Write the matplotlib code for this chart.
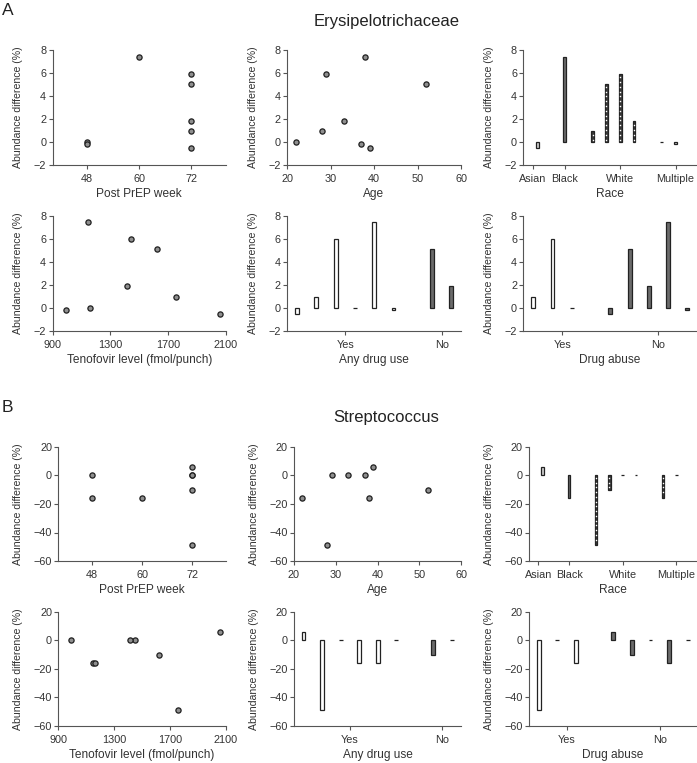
import matplotlib
matplotlib.use("Agg")
import matplotlib.pyplot as plt
import numpy as np

plt.rcParams['font.family'] = ['Liberation Sans', 'DejaVu Sans']

# one entry per subject
week = [60, 72, 72, 72, 72, 48, 48, 72]
age = [38, 29, 52, 33, 28, 22, 37, 39]
tenofovir = [1147, 1446, 1620, 1413, 1755, 1162, 993, 2060]
race = ["Black", "White", "White", "White", "White", "Multiple", "Multiple", "Asian"]
drug_use = ["Yes", "Yes", "No", "No", "Yes", "Yes", "Yes", "Yes"]
drug_abuse = ["No", "Yes", "No", "No", "Yes", "Yes", "No", "No"]

# abundance differences (%)
erysipelotrichaceae = [7.42, 5.94, 5.07, 1.86, 0.96, 0.0, -0.2, -0.55]
streptococcus = [-16, 0, -10, 0, -49, -16, 0, 6.2]

race_order = ["Asian", "Black", "White", "Multiple"]
yes_no = ["Yes", "No"]

# bar look per subject in the race panels
race_look = ["solid", "dotted", "dotted", "dotted", "dotted", "dotted", "light", "light"]

W, H = 697, 763
TXT = "#333333"
AXC = "#555555"
DARK = "#6b6b6b"


def px_rect(left, right, top, bottom):
    return [left / W, 1 - bottom / H, (right - left) / W, (bottom - top) / H]


def style_axes(ax, ylim, yticks):
    ax.set_ylim(ylim)
    ax.set_yticks(yticks)
    for s in ["top", "right"]:
        ax.spines[s].set_visible(False)
    for s in ["left", "bottom"]:
        ax.spines[s].set_color(AXC)
        ax.spines[s].set_linewidth(0.8)
    ax.tick_params(axis="both", length=3, width=0.8, color=AXC, labelcolor=TXT, labelsize=7.8)
    ax.tick_params(axis="x", pad=3.5)
    ax.tick_params(axis="y", pad=1.5)
    ax.set_ylabel("Abundance difference (%)", fontsize=7.6, color=TXT, labelpad=7.5)
    ax.patch.set_alpha(0)


def grouped_slots(groups, order):
    members, slots, pos = [], [], 0
    for g in order:
        idx = [i for i in range(len(groups)) if groups[i] == g]
        idx.sort(key=lambda i: -tenofovir[i])
        for i in idx:
            members.append(i)
            slots.append(pos)
            pos += 1
        pos += 1
    return members, slots


def scatter_panel(ax, x, y, xlim, xticks, xlabel):
    ax.scatter(x, y, s=14, facecolor="#8f8f8f", edgecolor="#1e1e1e", linewidth=0.9, zorder=3)
    ax.set_xlim(xlim)
    ax.set_xticks(xticks)
    ax.set_xlabel(xlabel, fontsize=8.6, color=TXT, labelpad=3)


def yes_no_panel(ax, groups, values, ticks, xlabel):
    members, slots = grouped_slots(groups, yes_no)
    for i, s in zip(members, slots):
        fc = "white" if groups[i] == "Yes" else DARK
        ax.bar(s, values[i], width=0.2, color=fc, edgecolor="#222222", linewidth=0.9)
    ax.set_xlim(-0.52, 8.5)
    ax.set_xticks(ticks)
    ax.set_xticklabels(yes_no)
    ax.set_xlabel(xlabel, fontsize=8.6, color=TXT, labelpad=3)


def race_panel(ax, values, ylim):
    members, slots = grouped_slots(race, race_order)
    step = (ylim[1] - ylim[0]) / 24.0
    for i, s in zip(members, slots):
        look = race_look[i]
        fc = {"solid": DARK, "dotted": "#3a3a3a", "light": "#cfcfcf"}[look]
        ax.bar(s, values[i], width=0.2, color=fc, edgecolor="#222222", linewidth=0.9)
        if look == "dotted" and abs(values[i]) > step:
            n = int(abs(values[i]) / step)
            dots = np.sign(values[i]) * step * (np.arange(n) + 0.5)
            ax.plot([s] * n, dots, ls="none", marker="s", ms=1.0, mec="none", mfc="white", zorder=4)
    ax.set_xlim(-1.0, 11.55)
    ax.set_xticks([-0.3, 2, 6, 10])
    ax.set_xticklabels(race_order)
    ax.set_xlabel("Race", fontsize=8.6, color=TXT, labelpad=3)


fig = plt.figure(figsize=(W / 100, H / 100), dpi=100)

blocks = [
    ("A", "Erysipelotrichaceae", erysipelotrichaceae, (-2, 8), [-2, 0, 2, 4, 6, 8],
     [(50, 165), (215.7, 330.7)], [52.5, 287, 523.3], 15, 26),
    ("B", "Streptococcus", streptococcus, (-60, 20), [-60, -40, -20, 0, 20],
     [(447, 561), (612, 725.7)], [58.3, 294, 529], 411.7, 422),
]

for letter, taxon, vals, ylim, yticks, rows, lefts, letter_base, title_base in blocks:
    (t1, b1), (t2, b2) = rows
    rights = [226, 461, 697]

    ax = fig.add_axes(px_rect(lefts[0], rights[0], t1, b1))
    scatter_panel(ax, week, vals, (40, 80), [48, 60, 72], "Post PrEP week")
    style_axes(ax, ylim, yticks)

    ax = fig.add_axes(px_rect(lefts[1], rights[1], t1, b1))
    scatter_panel(ax, age, vals, (20, 60), [20, 30, 40, 50, 60], "Age")
    style_axes(ax, ylim, yticks)

    ax = fig.add_axes(px_rect(lefts[2], rights[2], t1, b1))
    race_panel(ax, vals, ylim)
    style_axes(ax, ylim, yticks)

    ax = fig.add_axes(px_rect(lefts[0], rights[0], t2, b2))
    scatter_panel(ax, tenofovir, vals, (900, 2100), [900, 1300, 1700, 2100], "Tenofovir level (fmol/punch)")
    style_axes(ax, ylim, yticks)

    ax = fig.add_axes(px_rect(lefts[1], rights[1], t2, b2))
    yes_no_panel(ax, drug_use, vals, [2.5, 7.5], "Any drug use")
    style_axes(ax, ylim, yticks)

    ax = fig.add_axes(px_rect(lefts[2], rights[2], t2, b2))
    yes_no_panel(ax, drug_abuse, vals, [1.5, 6.5], "Drug abuse")
    style_axes(ax, ylim, yticks)

    fig.text(1.5 / W, 1 - letter_base / H, letter, fontsize=12.5, color="#222222", va="baseline", ha="left")
    fig.text(386.5 / W, 1 - title_base / H, taxon, fontsize=12, color="#222222", va="baseline", ha="center")

fig.savefig("out.png", dpi=100)
